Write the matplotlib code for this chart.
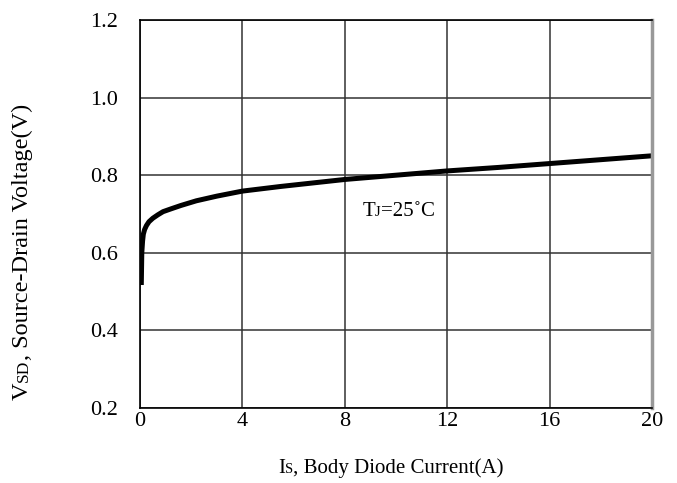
import matplotlib
matplotlib.use('Agg')
import matplotlib.pyplot as plt
import numpy as np

plt.rcParams['font.family'] = ['Liberation Serif', 'DejaVu Serif']

# body diode forward characteristic, Tj = 25C
i_s = [0.05, 0.07, 0.1, 0.13, 0.18, 0.25, 0.35, 0.5, 0.7, 0.9, 1.2, 1.6, 2.2, 3.0, 4.0, 5.5, 8.0, 10.0, 12.0, 14.0, 16.0, 18.0, 20.0]
v_sd = [0.517, 0.600, 0.630, 0.648, 0.660, 0.670, 0.680, 0.689, 0.698, 0.706, 0.713, 0.722, 0.734, 0.746, 0.759, 0.771, 0.789, 0.800, 0.811, 0.820, 0.830, 0.840, 0.850]

xticks = [0, 4, 8, 12, 16, 20]
yticks = [0.2, 0.4, 0.6, 0.8, 1.0, 1.2]

fig = plt.figure(figsize=(6.77, 4.83), dpi=100)
ax = fig.add_axes([0.2068, 0.1553, 0.7563, 0.8033])

ax.plot(i_s, v_sd, color='black', lw=3.6, solid_capstyle='butt', solid_joinstyle='round')

ax.set_xlim(0, 20)
ax.set_ylim(0.2, 1.2)
ax.set_xticks(xticks)
ax.set_yticks(yticks)
ax.set_xticklabels([str(t) for t in xticks])
ax.set_yticklabels(['%.1f' % t for t in yticks])
ax.tick_params(length=0, labelsize=16)
ax.tick_params(axis='y', pad=16)
ax.tick_params(axis='x', pad=3)
ax.grid(True, color='#333333', lw=1.1)
for s in ['left', 'bottom', 'top']:
    ax.spines[s].set_color('black')
    ax.spines[s].set_linewidth(1.2)
ax.spines['right'].set_color('#999999')
ax.spines['right'].set_linewidth(2.5)


def runs(x, y, parts, rotation=0):
    # draw text pieces of mixed size one after another on a shared baseline
    r = fig.canvas.get_renderer()
    inv = fig.transFigure.inverted()
    for txt, size in parts:
        t = fig.text(x, y, txt, fontsize=size, ha='left', va='baseline',
                     rotation=rotation, rotation_mode='anchor')
        bb = t.get_window_extent(renderer=r)
        (x0, y0), (x1, y1) = inv.transform([(bb.x0, bb.y0), (bb.x1, bb.y1)])
        if rotation == 0:
            x += x1 - x0
        else:
            y += y1 - y0


runs(0.411, 0.02, [('I', 15), ('S', 10.5), (', Body Diode Current(A)', 15)])
runs(0.041, 0.172, [('V', 17.5), ('SD', 12.5), (', Source-Drain Voltage(V)', 17.5)], rotation=90)
runs(0.535, 0.553, [('T', 15), ('J', 10.5), ('=25', 15), ('\u02da', 15), ('C', 15)])

fig.savefig('out.png', dpi=100)
